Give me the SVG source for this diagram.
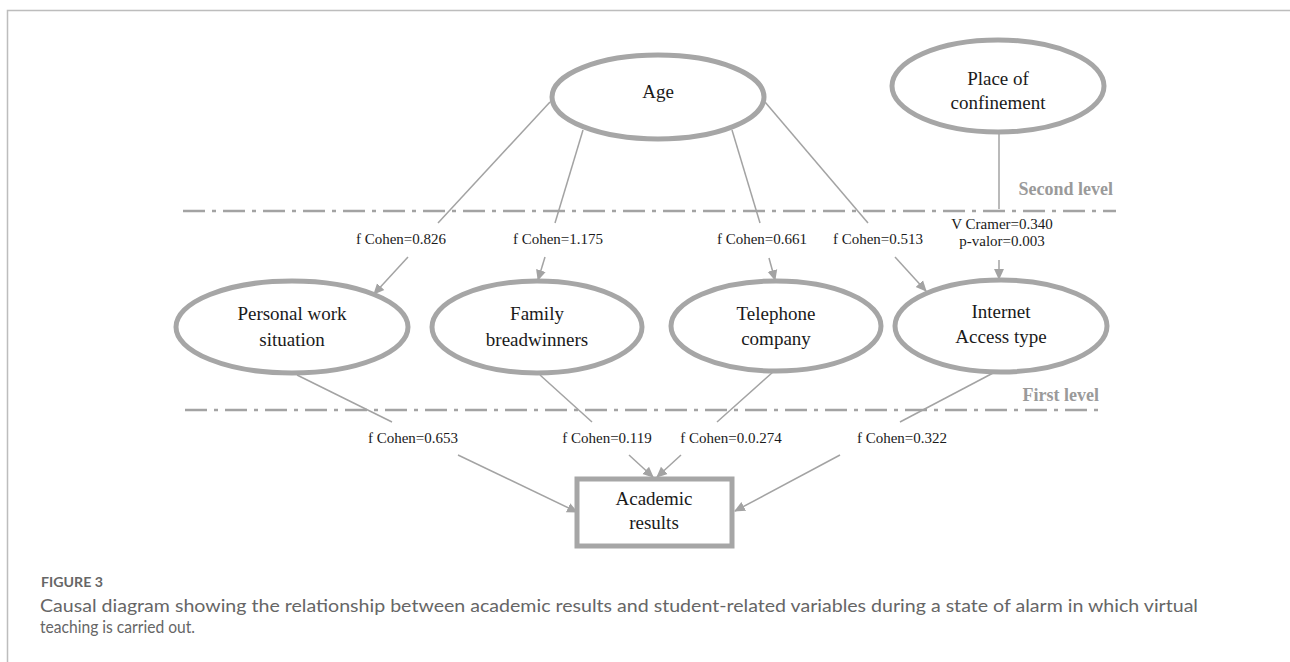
<svg xmlns="http://www.w3.org/2000/svg" width="1290" height="662" viewBox="0 0 1290 662">
<defs>
<style>
.frame{stroke:#bdbdbd;stroke-width:1.5;fill:none}
.node{fill:#fff;stroke:#a6a6a6;stroke-width:5}
.box{fill:#fff;stroke:#a6a6a6;stroke-width:5}
.t{font-family:"Liberation Serif","Times New Roman",serif;font-size:19px;fill:#1a1a1a;text-anchor:middle}
.lbl{font-family:"Liberation Serif","Times New Roman",serif;font-size:15px;fill:#1a1a1a;text-anchor:middle}
.lvl{font-family:"Liberation Serif","Times New Roman",serif;font-size:18px;font-weight:bold;fill:#9a9a9a;text-anchor:end}
.dd{stroke:#a3a3a3;stroke-width:2.5;fill:none;stroke-dasharray:22 7 4 7}
.c{stroke:#a3a3a3;stroke-width:1.5;fill:none}
.cap{font-family:Lato,"Open Sans",sans-serif;fill:#666}
</style>
<marker id="ah" viewBox="0 0 10 10" refX="9" refY="5" markerWidth="11" markerHeight="11" markerUnits="userSpaceOnUse" orient="auto">
<path d="M0,0.5 L10,5 L0,9.5 z" fill="#a3a3a3"/>
</marker>
</defs>
<rect width="1290" height="662" fill="#fff"/>
<path class="frame" d="M7.5,662 V10.5 H1290"/>

<g id="levels">
<line class="dd" x1="183" y1="211" x2="1116" y2="211"/>
<line class="dd" x1="185" y1="410" x2="1102" y2="410"/>
<text class="lvl" x="1113" y="195">Second level</text>
<text class="lvl" x="1099" y="401">First level</text>
</g>

<g id="connectors">
<line class="c" x1="550" y1="102" x2="438" y2="223"/>
<line class="c" x1="408" y1="257" x2="374" y2="294" marker-end="url(#ah)"/>
<line class="c" x1="583" y1="130" x2="555" y2="223"/>
<line class="c" x1="545" y1="257" x2="538" y2="280" marker-end="url(#ah)"/>
<line class="c" x1="732" y1="130" x2="760" y2="223"/>
<line class="c" x1="769" y1="258" x2="775" y2="280" marker-end="url(#ah)"/>
<line class="c" x1="765" y1="102" x2="868" y2="223"/>
<line class="c" x1="895" y1="257" x2="926" y2="291" marker-end="url(#ah)"/>
<line class="c" x1="999" y1="132" x2="999" y2="209"/>
<line class="c" x1="999" y1="260" x2="999" y2="279" marker-end="url(#ah)"/>
<line class="c" x1="297" y1="375" x2="392" y2="422"/>
<line class="c" x1="458" y1="455" x2="577" y2="512" marker-end="url(#ah)"/>
<line class="c" x1="540" y1="375" x2="592" y2="422"/>
<line class="c" x1="629" y1="455" x2="653" y2="477" marker-end="url(#ah)"/>
<line class="c" x1="773" y1="372" x2="717" y2="422"/>
<line class="c" x1="681" y1="455" x2="657" y2="477" marker-end="url(#ah)"/>
<line class="c" x1="995" y1="372" x2="900" y2="422"/>
<line class="c" x1="840" y1="455" x2="735" y2="511" marker-end="url(#ah)"/>
</g>

<g id="edge-labels">
<text class="lbl" x="401" y="244">f Cohen=0.826</text>
<text class="lbl" x="558" y="244">f Cohen=1.175</text>
<text class="lbl" x="762" y="244">f Cohen=0.661</text>
<text class="lbl" x="878" y="244">f Cohen=0.513</text>
<text class="lbl" x="1002" y="229">V Cramer=0.340</text>
<text class="lbl" x="1002" y="246">p-valor=0.003</text>
<text class="lbl" x="413" y="443">f Cohen=0.653</text>
<text class="lbl" x="607" y="443">f Cohen=0.119</text>
<text class="lbl" x="731" y="443">f Cohen=0.0.274</text>
<text class="lbl" x="902" y="443">f Cohen=0.322</text>
</g>

<g id="age">
<ellipse class="node" cx="658" cy="97" rx="106" ry="42"/>
<text class="t" x="658" y="98">Age</text>
</g>
<g id="place">
<ellipse class="node" cx="998" cy="86" rx="106" ry="46"/>
<text class="t" x="998" y="85">Place of</text>
<text class="t" x="998" y="109">confinement</text>
</g>
<g id="personal">
<ellipse class="node" cx="292" cy="327" rx="116" ry="46"/>
<text class="t" x="292" y="320">Personal work</text>
<text class="t" x="292" y="346">situation</text>
</g>
<g id="family">
<ellipse class="node" cx="537" cy="327" rx="105" ry="46"/>
<text class="t" x="537" y="320">Family</text>
<text class="t" x="537" y="346">breadwinners</text>
</g>
<g id="telephone">
<ellipse class="node" cx="776" cy="326" rx="105" ry="45"/>
<text class="t" x="776" y="320">Telephone</text>
<text class="t" x="776" y="345">company</text>
</g>
<g id="internet">
<ellipse class="node" cx="1001" cy="326" rx="106" ry="46"/>
<text class="t" x="1001" y="318">Internet</text>
<text class="t" x="1001" y="343">Access type</text>
</g>
<g id="academic">
<rect class="box" x="577" y="479" width="155" height="67"/>
<text class="t" x="654" y="505">Academic</text>
<text class="t" x="654" y="529">results</text>
</g>

<g id="caption">
<text class="cap" x="41" y="587" font-size="13.5" font-weight="bold" fill="#555" textLength="62" lengthAdjust="spacingAndGlyphs">FIGURE 3</text>
<text class="cap" x="40" y="612" font-size="17" textLength="1158" lengthAdjust="spacingAndGlyphs">Causal diagram showing the relationship between academic results and student-related variables during a state of alarm in which virtual</text>
<text class="cap" x="40" y="633" font-size="17" textLength="155" lengthAdjust="spacingAndGlyphs">teaching is carried out.</text>
</g>
</svg>
